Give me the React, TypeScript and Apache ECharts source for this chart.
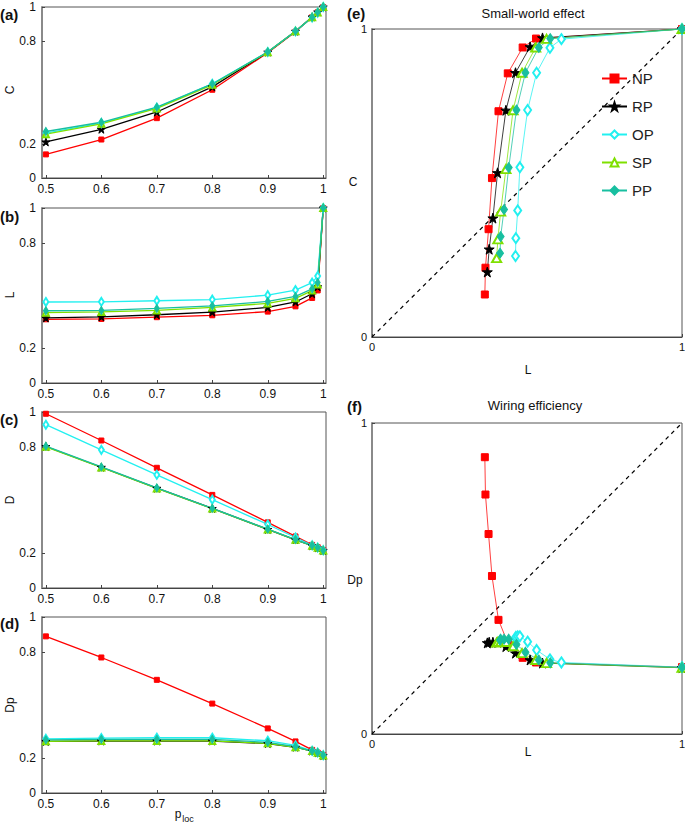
import React, { useEffect, useRef } from 'react';
import * as echarts from 'echarts';

// ---------- data ----------
const ploc = [0.5, 0.6, 0.7, 0.8, 0.9, 0.95, 0.98, 0.99, 1.0];
const seriesNames = ['NP', 'RP', 'OP', 'SP', 'PP'];

// Clustering C
const cNP = [0.138, 0.225, 0.35, 0.516, 0.733, 0.856, 0.94, 0.969, 1.0];
const cRP = [0.211, 0.285, 0.386, 0.533, 0.736, 0.858, 0.942, 0.971, 1.0];
const cOP = [0.263, 0.321, 0.411, 0.551, 0.737, 0.858, 0.939, 0.967, 1.0];
const cSP = [0.256, 0.317, 0.407, 0.545, 0.736, 0.858, 0.94, 0.968, 1.0];
const cPP = [0.272, 0.326, 0.414, 0.55, 0.737, 0.858, 0.94, 0.969, 1.0];

// Path length L
const lNP = [0.364, 0.366, 0.376, 0.387, 0.408, 0.438, 0.486, 0.529, 1.0];
const lRP = [0.372, 0.378, 0.39, 0.405, 0.432, 0.463, 0.51, 0.55, 1.0];
const lOP = [0.463, 0.464, 0.47, 0.477, 0.502, 0.531, 0.574, 0.611, 1.0];
const lSP = [0.402, 0.406, 0.415, 0.432, 0.455, 0.484, 0.528, 0.563, 1.0];
const lPP = [0.413, 0.415, 0.426, 0.441, 0.466, 0.495, 0.538, 0.575, 1.0];

// Wiring cost D
const dNP = [0.99, 0.838, 0.683, 0.529, 0.373, 0.293, 0.245, 0.232, 0.215];
const dRP = [0.804, 0.686, 0.567, 0.452, 0.333, 0.274, 0.24, 0.228, 0.213];
const dOP = [0.928, 0.785, 0.643, 0.502, 0.361, 0.287, 0.243, 0.23, 0.215];
const dSP = [0.802, 0.685, 0.566, 0.451, 0.333, 0.274, 0.24, 0.228, 0.213];
const dPP = [0.806, 0.688, 0.569, 0.453, 0.334, 0.275, 0.241, 0.229, 0.213];

// Physical distance Dp
const dpNP = [0.89, 0.77, 0.643, 0.508, 0.367, 0.293, 0.245, 0.23, 0.215];
const dpRP = [0.293, 0.295, 0.295, 0.295, 0.281, 0.26, 0.238, 0.228, 0.213];
const dpOP = [0.308, 0.312, 0.314, 0.314, 0.297, 0.27, 0.24, 0.23, 0.215];
const dpSP = [0.294, 0.296, 0.296, 0.296, 0.282, 0.26, 0.238, 0.228, 0.213];
const dpPP = [0.302, 0.305, 0.305, 0.305, 0.288, 0.263, 0.238, 0.229, 0.214];

const leftXTicks = [0.5, 0.6, 0.7, 0.8, 0.9, 1];
const leftYTicks = [0, 0.2, 0.8, 1];
const rightTicks = [0, 1];
const diagonal = [[0, 0], [1, 1]];

// ---------- styles ----------
const FONT = "'Liberation Sans', Arial, Helvetica, sans-serif";
const STAR = 'path://M50 0 L61.8 35.1 L98.9 35.1 L68.9 56.7 L80.3 91.9 L50 70.1 L19.7 91.9 L31.1 56.7 L1.1 35.1 L38.2 35.1 Z';
const styles: Record<string, any> = {
  NP: { color: '#ff0000', symbol: 'rect', small: 5, big: 7 },
  RP: { color: '#000000', symbol: STAR, small: 8, big: 10 },
  OP: { color: '#22f0f0', symbol: 'emptyDiamond', small: [5, 8], big: [7, 10] },
  SP: { color: '#7fe000', symbol: 'emptyTriangle', small: 6, big: [9, 8] },
  PP: { color: '#18bfa0', symbol: 'diamond', small: [5, 8], big: [7, 10] },
};

const cData: Record<string, number[]> = { NP: cNP, RP: cRP, OP: cOP, SP: cSP, PP: cPP };
const lData: Record<string, number[]> = { NP: lNP, RP: lRP, OP: lOP, SP: lSP, PP: lPP };
const dData: Record<string, number[]> = { NP: dNP, RP: dRP, OP: dOP, SP: dSP, PP: dPP };
const dpData: Record<string, number[]> = { NP: dpNP, RP: dpRP, OP: dpOP, SP: dpSP, PP: dpPP };

const grids = [
  { left: 42, top: 7, width: 284, height: 171 },
  { left: 42, top: 208, width: 284, height: 175 },
  { left: 42, top: 412, width: 284, height: 176 },
  { left: 42, top: 617, width: 284, height: 176 },
  { left: 372, top: 29, width: 310, height: 308 },
  { left: 372, top: 423, width: 310, height: 311 },
];

function buildOption() {
  const grid = grids.map((g) => ({
    ...g,
    show: true,
    borderColor: '#555',
    borderWidth: 1,
    outerBoundsMode: 'none',
    containLabel: false,
  }));

  const xAxis: any[] = [];
  const yAxis: any[] = [];
  for (let i = 0; i < 6; i++) {
    const left = i < 4;
    const xt = left ? leftXTicks : rightTicks;
    const yt = left ? leftYTicks : rightTicks;
    xAxis.push({
      type: 'value',
      gridIndex: i,
      min: left ? 0.493 : 0,
      max: left ? 1.005 : 1,
      axisLine: { show: true, onZero: false, lineStyle: { color: '#444', width: 1 } },
      axisTick: { show: true, inside: true, length: 3, customValues: xt, lineStyle: { color: '#444' } },
      axisLabel: {
        customValues: xt,
        fontSize: left ? 12 : 11,
        color: '#111',
        margin: left ? 5 : 4,
        fontFamily: FONT,
        formatter: (v: number) => String(v),
        showMinLabel: true,
        showMaxLabel: true,
      },
      splitLine: { show: false },
    });
    yAxis.push({
      type: 'value',
      gridIndex: i,
      min: 0,
      max: 1,
      axisLine: { show: true, onZero: false, lineStyle: { color: '#8a8a8a', width: 2 } },
      axisTick: { show: true, inside: true, length: 3, customValues: yt, lineStyle: { color: '#444' } },
      axisLabel: {
        customValues: yt,
        fontSize: left ? 12 : 11,
        color: '#111',
        margin: left ? 6 : 5,
        fontFamily: FONT,
        formatter: (v: number) => String(v),
        showMinLabel: true,
        showMaxLabel: true,
      },
      splitLine: { show: false },
    });
  }

  const series: any[] = [];
  // diagonals
  [4, 5].forEach((gi) => {
    series.push({
      name: 'diag' + gi,
      type: 'line',
      xAxisIndex: gi,
      yAxisIndex: gi,
      data: diagonal,
      symbol: 'none',
      silent: true,
      clip: false,
      lineStyle: { color: '#000', width: 1.2, type: [4, 4] },
    });
  });

  const leftSets = [cData, lData, dData, dpData];
  seriesNames.forEach((name) => {
    const st = styles[name];
    leftSets.forEach((set, gi) => {
      series.push({
        name,
        type: 'line',
        xAxisIndex: gi,
        yAxisIndex: gi,
        data: ploc.map((p, k) => [p, set[name][k]]),
        symbol: st.symbol,
        symbolSize: st.small,
        clip: false,
        color: st.color,
        lineStyle: { color: st.color, width: 1.3 },
        itemStyle: { color: st.color, borderColor: st.color, borderWidth: 1 },
      });
    });
  });
  seriesNames.forEach((name) => {
    const st = styles[name];
    [[cData, 4], [dpData, 5]].forEach(([set, gi]: any) => {
      series.push({
        name,
        type: 'line',
        xAxisIndex: gi,
        yAxisIndex: gi,
        data: lData[name].map((l, k) => [l, set[name][k]]),
        symbol: st.symbol,
        symbolSize: st.big,
        clip: false,
        color: st.color,
        lineStyle: { color: st.color, width: 1, opacity: 0.75 },
        itemStyle: { color: st.color, borderColor: st.color, borderWidth: 1 },
      });
    });
  });

  const txt = (text: string, x: number, y: number, size: number, opts: any = {}) => ({
    type: 'text',
    x,
    y,
    rotation: opts.rotation || 0,
    style: {
      text,
      fill: '#111',
      font: `${opts.bold ? 'bold ' : ''}${size}px ${FONT}`,
      align: opts.align || 'center',
      verticalAlign: 'middle',
    },
  });

  const graphic = [
    txt('(a)', 0, 14, 15, { bold: true, align: 'left' }),
    txt('(b)', 0, 216, 15, { bold: true, align: 'left' }),
    txt('(c)', 0, 419, 15, { bold: true, align: 'left' }),
    txt('(d)', 0, 623, 15, { bold: true, align: 'left' }),
    txt('(e)', 347, 13, 15, { bold: true, align: 'left' }),
    txt('(f)', 347, 406, 15, { bold: true, align: 'left' }),
    txt('Small-world effect', 533, 13, 13),
    txt('Wiring efficiency', 535, 405, 13),
    txt('C', 10, 90, 12, { rotation: Math.PI / 2 }),
    txt('L', 10, 295, 12, { rotation: Math.PI / 2 }),
    txt('D', 10, 500, 12, { rotation: Math.PI / 2 }),
    txt('Dp', 10, 705, 12, { rotation: Math.PI / 2 }),
    txt('C', 353, 182, 12),
    txt('L', 528, 370, 12),
    txt('Dp', 355, 580, 12),
    txt('L', 528, 752, 12),
    txt('p', 178, 814, 12),
    txt('loc', 188, 819, 9),
  ];

  return {
    animation: false,
    backgroundColor: '#fff',
    grid,
    xAxis,
    yAxis,
    series,
    graphic,
    legend: {
      data: seriesNames,
      orient: 'vertical',
      left: 596,
      top: 66,
      itemWidth: 25,
      itemHeight: 10,
      itemGap: 13,
      textStyle: { fontSize: 15, color: '#222', fontFamily: FONT, lineHeight: 14 },
      selectedMode: false,
    },
  };
}

export default function App() {
  const ref = useRef<HTMLDivElement>(null);
  useEffect(() => {
    if (!ref.current) return;
    const chart = echarts.init(ref.current, null, { renderer: 'svg' });
    chart.setOption(buildOption() as any);
    return () => chart.dispose();
  }, []);
  return (
    <div
      ref={ref}
      style={{ position: 'absolute', left: 0, top: 0, width: 685, height: 823, background: '#fff' }}
    />
  );
}
